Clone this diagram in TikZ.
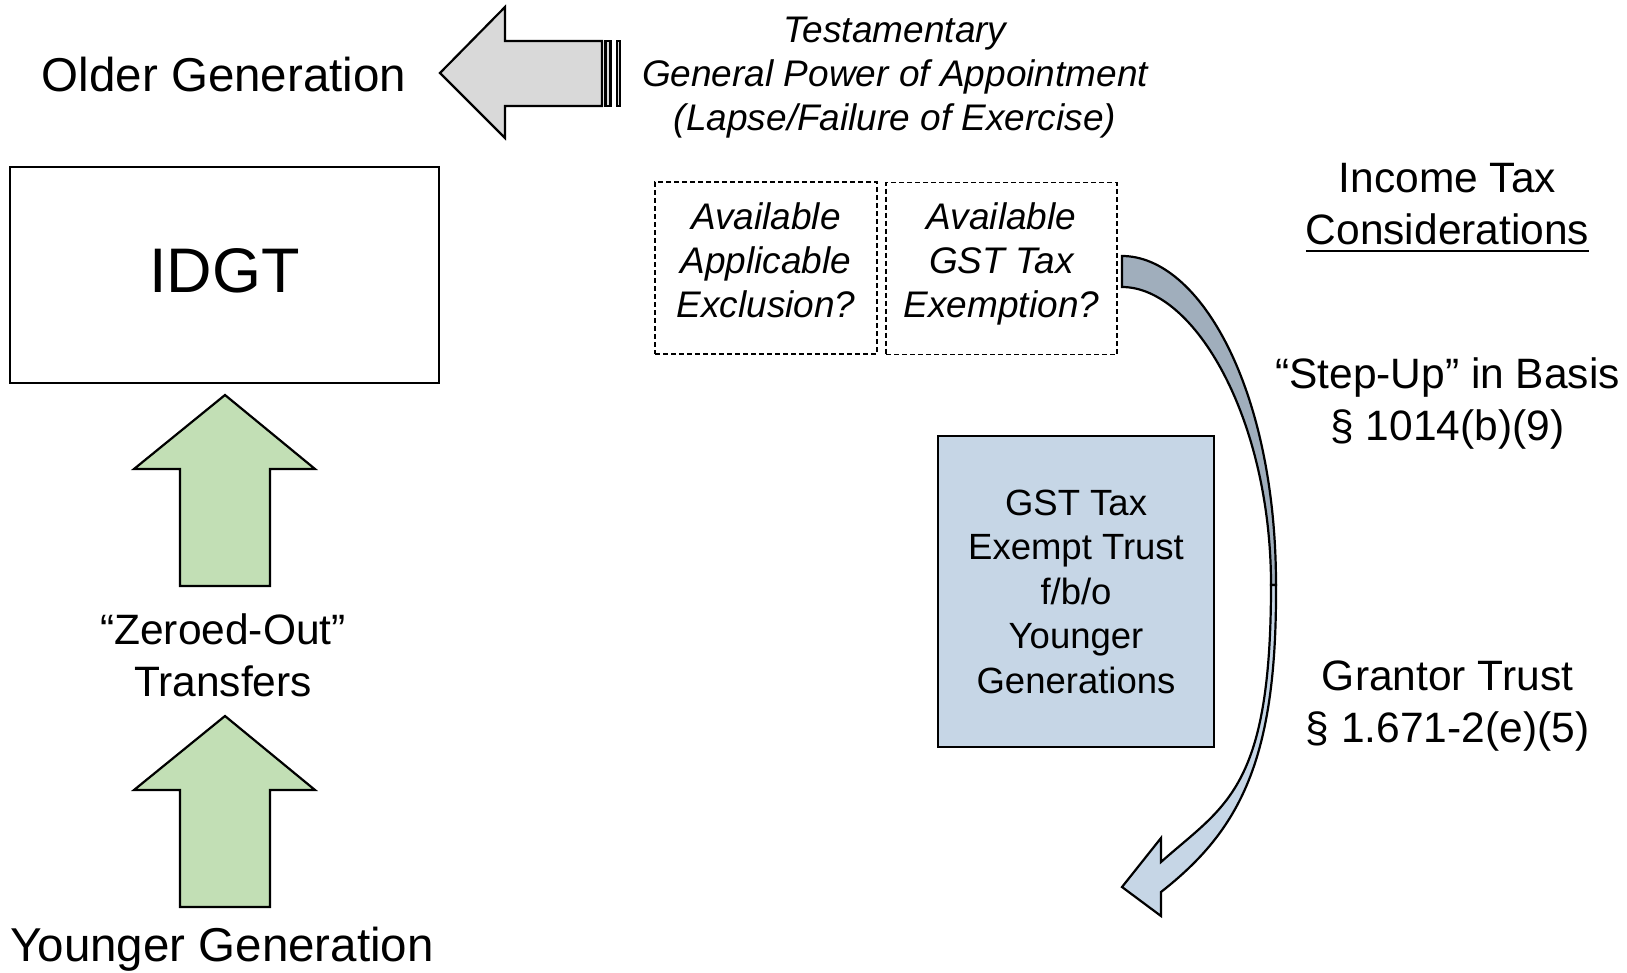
\documentclass[tikz,border=0pt]{standalone}
\usepackage{fontspec}
\setmainfont{Liberation Sans}
\usepackage{tikz}
\usetikzlibrary{positioning}
\definecolor{arrowgrey}{RGB}{217,217,217}
\definecolor{bandgrey}{RGB}{160,174,188}
\definecolor{trustblue}{RGB}{198,214,230}
\definecolor{upgreen}{RGB}{194,223,181}
\newsavebox{\ulbox}
\newcommand{\thickul}[1]{\sbox{\ulbox}{#1}\rlap{\rule[-8pt]{\wd\ulbox}{2.2pt}}\usebox{\ulbox}}

\begin{document}
\begin{tikzpicture}[x=1pt,y=-1pt,
	big/.style={font=\fontsize{47.5}{57}\selectfont, inner sep=0pt, align=center},
	body/.style={font=\fontsize{42.5}{52}\selectfont, inner sep=0pt, align=center},
	itext/.style={font=\fontsize{37}{44}\selectfont\itshape, inner sep=0pt, align=center},
	blockarrow/.style={draw=black, line width=2.2pt, line join=miter},
	dashbox/.style={draw=black, line width=1.8pt, dash pattern=on 5pt off 3pt}]
	\useasboundingbox (0,0) rectangle (1627,972);
	%
	\node[big, anchor=base] (older) at (224,91) {Older Generation};
	\node[big, anchor=base] (younger) at (222,961) {Younger Generation};
	\node[draw, line width=2pt, minimum width=429pt, minimum height=216pt,
		font=\fontsize{63}{75}\selectfont, text depth=9pt] (idgt) at (224.5,275) {IDGT};
	\node[body, anchor=base] (zeroed) at (223,696) {“Zeroed-Out”\\Transfers};
	%
	\foreach \t in {395,716}
		\draw[blockarrow, fill=upgreen] (225,\t) -- (315,\t+74) -- (270,\t+74) -- (270,\t+191)
			-- (180,\t+191) -- (180,\t+74) -- (134,\t+74) -- cycle;
	%
	\draw[blockarrow, fill=arrowgrey] (440,73) -- (505,7) -- (505,41) -- (602,41) -- (602,106)
		-- (505,106) -- (505,138) -- cycle;
	\draw[blockarrow, fill=arrowgrey] (605.5,41) rectangle (610.5,106);
	\draw[blockarrow, fill=arrowgrey] (617,41) rectangle (620,106);
	%
	\node[itext, anchor=base] (gpoa) at (895,130)
		{Testamentary\\General Power of Appointment\\(Lapse/Failure of Exercise)};
	%
	\node[dashbox, minimum width=222pt, minimum height=172pt] (applic) at (766,268) {};
	\node[itext, anchor=base] (applictxt) at (766,317) {Available\\Applicable\\Exclusion?};
	\node[dashbox, minimum width=231pt, minimum height=172pt] (gstex) at (1001.5,268.5) {};
	\node[itext, anchor=base] (gstextxt) at (1001.5,317) {Available\\GST Tax\\Exemption?};
	%
	\draw[blockarrow, fill=bandgrey] (1122,256) .. controls (1200,256) and (1276,390) .. (1276,585)
		-- (1271,585) .. controls (1271,420) and (1195,287) .. (1122,287) -- cycle;
	\draw[blockarrow, fill=trustblue] (1276,585) .. controls (1277,760) and (1240,830) .. (1161,892)
		-- (1161,916) -- (1122,887) -- (1161,838) -- (1161,862)
		.. controls (1225,805) and (1271,790) .. (1271,585) -- cycle;
	%
	\node[draw, line width=2pt, fill=trustblue, minimum width=276pt, minimum height=311pt,
		font=\fontsize{36.5}{44.5}\selectfont, align=center] (gsttrust) at (1076,591.5)
		{GST Tax\\Exempt Trust\\f/b/o\\Younger\\Generations};
	%
	\node[body, anchor=base] (inctax) at (1447.5,244) {Income Tax\\\thickul{Considerations}};
	\node[body, anchor=base] (stepup) at (1447.5,440) {“Step-Up” in Basis\\§ 1014(b)(9)};
	\node[body, anchor=base] (grantor) at (1447.5,742) {Grantor Trust\\§ 1.671-2(e)(5)};
\end{tikzpicture}
\end{document}
